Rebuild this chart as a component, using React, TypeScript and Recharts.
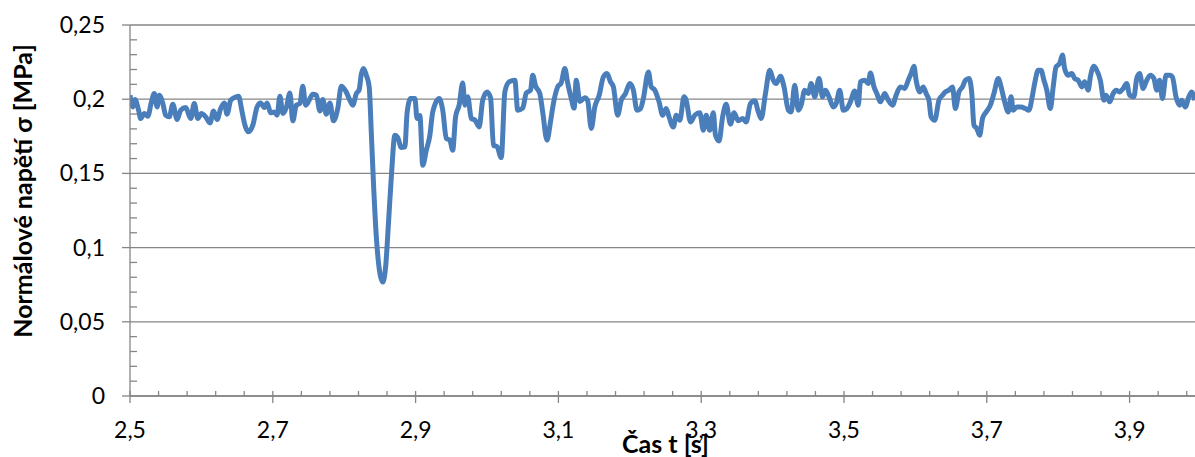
import { CartesianGrid, Label, Line, LineChart, XAxis, YAxis } from "recharts";

// normal stress σ [MPa] sampled over time t [s], as [t, σ] pairs
const calmStart: [number, number][] = [
  [2.5, 0.2027], [2.504, 0.1948], [2.507, 0.1998], [2.512, 0.1926], [2.515, 0.187], [2.52, 0.1904],
  [2.525, 0.1885], [2.53, 0.1982], [2.534, 0.2038], [2.538, 0.1948], [2.541, 0.2027], [2.546, 0.1971],
  [2.55, 0.1892], [2.555, 0.1881], [2.56, 0.1966], [2.566, 0.1863], [2.571, 0.1926], [2.578, 0.1944],
  [2.585, 0.187], [2.59, 0.1971], [2.595, 0.187], [2.6, 0.1904], [2.606, 0.1881], [2.612, 0.184],
  [2.617, 0.1921], [2.622, 0.1863], [2.627, 0.1937], [2.632, 0.1975], [2.636, 0.1899], [2.641, 0.1993],
  [2.646, 0.2011], [2.652, 0.202], [2.657, 0.1914], [2.661, 0.1825], [2.666, 0.178], [2.672, 0.1825],
  [2.678, 0.1948], [2.683, 0.1975], [2.688, 0.1944], [2.692, 0.1975], [2.697, 0.1908], [2.702, 0.1914],
  [2.706, 0.1892], [2.71, 0.202], [2.714, 0.1904], [2.719, 0.1944], [2.724, 0.2042], [2.728, 0.1854],
  [2.733, 0.196], [2.738, 0.1971], [2.742, 0.2088], [2.746, 0.196], [2.751, 0.1993], [2.756, 0.2034],
  [2.761, 0.2027], [2.766, 0.1921], [2.77, 0.1998], [2.775, 0.1899], [2.78, 0.1975], [2.785, 0.1854],
  [2.791, 0.1937], [2.796, 0.2088], [2.802, 0.2056], [2.808, 0.1993], [2.812, 0.196], [2.817, 0.2038],
  [2.821, 0.2065], [2.824, 0.2169], [2.827, 0.2207], [2.831, 0.2162], [2.835, 0.2083],
];

const stressDrop: [number, number][] = [
  [2.838, 0.1771], [2.841, 0.1434], [2.845, 0.1072], [2.85, 0.0827], [2.854, 0.0768], [2.858, 0.0869],
  [2.862, 0.1164], [2.866, 0.1476], [2.871, 0.1757], [2.875, 0.1742], [2.88, 0.1674], [2.885, 0.1678],
  [2.888, 0.1904], [2.893, 0.2005], [2.899, 0.2005], [2.902, 0.187], [2.906, 0.189], [2.91, 0.1555],
  [2.915, 0.1656], [2.92, 0.1757], [2.924, 0.1914],
];

const recovery: [number, number][] = [
  [2.933, 0.2005], [2.938, 0.1926], [2.943, 0.1735], [2.948, 0.1724], [2.952, 0.1656], [2.956, 0.1881],
  [2.961, 0.196], [2.966, 0.211], [2.969, 0.196], [2.973, 0.2016], [2.978, 0.187], [2.983, 0.186],
  [2.989, 0.1813], [2.994, 0.1993], [3.0, 0.2049], [3.005, 0.201], [3.009, 0.169], [3.014, 0.168],
  [3.02, 0.1607], [3.025, 0.2049], [3.031, 0.2117], [3.039, 0.2128], [3.043, 0.1926], [3.05, 0.194],
  [3.055, 0.2042], [3.061, 0.206], [3.064, 0.2162], [3.068, 0.209], [3.074, 0.2038], [3.078, 0.1915],
  [3.084, 0.1724], [3.089, 0.185], [3.093, 0.1971], [3.099, 0.2083], [3.104, 0.2111], [3.109, 0.2207],
  [3.113, 0.211], [3.118, 0.2005], [3.122, 0.194], [3.125, 0.2128], [3.13, 0.1985], [3.137, 0.201],
  [3.141, 0.199], [3.146, 0.1803], [3.151, 0.1948], [3.157, 0.2025],
];

const middle: [number, number][] = [
  [3.163, 0.215], [3.168, 0.2173], [3.173, 0.2117], [3.177, 0.2083], [3.183, 0.1892], [3.188, 0.1993],
  [3.194, 0.2038], [3.2, 0.2106], [3.205, 0.2061], [3.21, 0.1926], [3.215, 0.1937], [3.219, 0.2005],
  [3.226, 0.2184], [3.23, 0.2083], [3.235, 0.2061], [3.241, 0.1982], [3.246, 0.1892], [3.251, 0.1937],
  [3.255, 0.188], [3.261, 0.1813], [3.265, 0.1892], [3.27, 0.1858], [3.276, 0.2016], [3.279, 0.1993],
  [3.285, 0.1847], [3.291, 0.1892], [3.298, 0.1908], [3.303, 0.1791], [3.307, 0.1892], [3.312, 0.1791],
  [3.317, 0.1908], [3.32, 0.1757], [3.325, 0.1719], [3.33, 0.1881], [3.335, 0.1966], [3.341, 0.1832],
  [3.346, 0.1908], [3.352, 0.1854], [3.358, 0.187], [3.363, 0.1847], [3.369, 0.1971], [3.375, 0.1989],
  [3.38, 0.1914], [3.384, 0.187], [3.39, 0.2038],
];

const upperBand: [number, number][] = [
  [3.396, 0.2195], [3.401, 0.2128], [3.405, 0.2106], [3.411, 0.2155], [3.416, 0.2083], [3.422, 0.1926],
  [3.426, 0.1914], [3.431, 0.2094], [3.436, 0.1926], [3.44, 0.196], [3.445, 0.2061], [3.45, 0.2038],
  [3.454, 0.2106], [3.459, 0.2016], [3.465, 0.214], [3.47, 0.2016], [3.474, 0.2061], [3.479, 0.2016],
  [3.485, 0.1948], [3.489, 0.1971], [3.494, 0.2061], [3.499, 0.1926], [3.504, 0.1937], [3.509, 0.1982],
  [3.515, 0.2056], [3.52, 0.196], [3.523, 0.2117], [3.529, 0.2128], [3.534, 0.2106], [3.537, 0.2177],
  [3.542, 0.2083], [3.546, 0.2038], [3.551, 0.1982], [3.557, 0.2038], [3.562, 0.1993], [3.568, 0.196],
  [3.573, 0.2027], [3.579, 0.2083], [3.585, 0.2072], [3.59, 0.2128], [3.594, 0.2173], [3.598, 0.2222],
  [3.601, 0.2128], [3.606, 0.2049], [3.611, 0.2083], [3.615, 0.2038], [3.619, 0.1993], [3.622, 0.1881],
  [3.627, 0.1858], [3.633, 0.1993],
];

const tail: [number, number][] = [
  [3.638, 0.2027], [3.642, 0.2049], [3.647, 0.2061], [3.652, 0.2083], [3.656, 0.1937], [3.661, 0.2049],
  [3.666, 0.2083], [3.67, 0.2128], [3.675, 0.214], [3.679, 0.2038], [3.682, 0.1825], [3.686, 0.1803],
  [3.69, 0.1757], [3.694, 0.187], [3.699, 0.1914], [3.705, 0.196], [3.71, 0.2038], [3.716, 0.214],
  [3.72, 0.2083], [3.725, 0.1982], [3.73, 0.1914], [3.734, 0.2016], [3.737, 0.1926], [3.742, 0.1948],
  [3.748, 0.1948], [3.754, 0.1937], [3.759, 0.1926], [3.764, 0.2027], [3.767, 0.2106], [3.772, 0.2195],
  [3.776, 0.2195], [3.78, 0.2128], [3.784, 0.2061], [3.789, 0.1937], [3.793, 0.2083], [3.797, 0.2218],
  [3.802, 0.2241], [3.806, 0.2297], [3.809, 0.2207], [3.814, 0.2162], [3.819, 0.2173], [3.823, 0.214],
  [3.828, 0.2128], [3.833, 0.2083], [3.837, 0.2117], [3.842, 0.2061], [3.845, 0.215], [3.85, 0.2222],
  [3.854, 0.2195], [3.859, 0.2128], [3.864, 0.1993], [3.867, 0.2027], [3.872, 0.1982], [3.877, 0.2038],
  [3.881, 0.2061], [3.886, 0.2049], [3.891, 0.2072], [3.896, 0.2106], [3.9, 0.2027], [3.906, 0.2016],
  [3.91, 0.214], [3.914, 0.2173], [3.919, 0.2072], [3.923, 0.2117], [3.929, 0.2162], [3.934, 0.214],
  [3.938, 0.2061], [3.942, 0.2128], [3.946, 0.2005], [3.951, 0.2162], [3.957, 0.2162], [3.96, 0.215],
  [3.965, 0.2016], [3.97, 0.196], [3.973, 0.1993], [3.978, 0.1948], [3.983, 0.2016], [3.987, 0.2049],
  [3.991, 0.1993],
];

// axis scales: majors are labelled, minors only get a short tick
const xMajor = [2.5, 2.7, 2.9, 3.1, 3.3, 3.5, 3.7, 3.9];
const xMinorStep = 0.04;
const yMajor = [0, 0.05, 0.1, 0.15, 0.2, 0.25];
const yMinorStep = 0.01;

const xTitle = "Čas t [s]";
const yTitle = "Normálové napětí σ [MPa]";

const FONT = "Lato, 'Open Sans', sans-serif";
const AXIS = "#868686";
const LINE = "#4A7EBB";

const data = [...calmStart, ...stressDrop, ...recovery, ...middle, ...upperBand, ...tail].map(
  ([t, sigma]) => ({ t, sigma })
);

const steps = (from: number, to: number, step: number) => {
  const out: number[] = [];
  for (let v = from; v <= to + 1e-9; v += step) out.push(Number(v.toFixed(3)));
  return out;
};
const xTicks = steps(2.5, 4.0, xMinorStep);
const yTicks = steps(0, 0.25, yMinorStep);

const isMajor = (list: number[], v: number) => list.some((m) => Math.abs(m - v) < 1e-6);
const fmt = (v: number) => String(Number(v.toFixed(2))).replace(".", ",");

const XTick = (props: any) => {
  const { x, y, payload } = props;
  const major = isMajor(xMajor, payload.value);
  return (
    <g>
      <line x1={x} x2={x} y1={y - 5} y2={major ? y + 7 : y} stroke={AXIS} strokeWidth={1.3} />
      {major && (
        <text x={x} y={y + 42} textAnchor="middle" fontFamily={FONT} fontSize={23} fill="#000">
          {fmt(payload.value)}
        </text>
      )}
    </g>
  );
};

const YTick = (props: any) => {
  const { x, y, payload } = props;
  const major = isMajor(yMajor, payload.value);
  return (
    <g>
      <line x1={major ? x - 8 : x} x2={major ? x : x + 7} y1={y} y2={y} stroke={AXIS} strokeWidth={1.3} />
      {major && (
        <text x={x - 25} y={y + 8} textAnchor="end" fontFamily={FONT} fontSize={23} fill="#000">
          {fmt(payload.value)}
        </text>
      )}
    </g>
  );
};

const YTitle = () => (
  <text
    transform="translate(32, 191) rotate(-90)"
    textAnchor="middle"
    fontFamily={FONT}
    fontWeight={700}
    fontSize={25}
    fill="#000"
  >
    {yTitle}
  </text>
);

export default function App() {
  return (
    <div style={{ position: "absolute", left: 0, top: 0, width: 1195, height: 457, overflow: "hidden", background: "#fff" }}>
      <LineChart width={1210} height={457} data={data} margin={{ top: 25, right: 9, bottom: 0, left: 0 }}>
        <CartesianGrid vertical={false} horizontalValues={yMajor} stroke={AXIS} strokeWidth={1.3} />
        <XAxis
          dataKey="t"
          type="number"
          domain={[2.5, 4.0]}
          ticks={xTicks}
          interval={0}
          height={61}
          tickSize={0}
          tickMargin={0}
          tickLine={false}
          tick={<XTick />}
          axisLine={{ stroke: AXIS, strokeWidth: 1.3 }}
          allowDataOverflow
        >
          <Label
            value={xTitle}
            position="insideBottom"
            offset={4}
            style={{ fontFamily: FONT, fontWeight: 700, fontSize: 25, fill: "#000" }}
          />
        </XAxis>
        <YAxis
          type="number"
          domain={[0, 0.25]}
          ticks={yTicks}
          interval={0}
          width={130}
          tickSize={0}
          tickMargin={0}
          tickLine={false}
          tick={<YTick />}
          axisLine={{ stroke: AXIS, strokeWidth: 1.3 }}
          label={<YTitle />}
        />
        <Line
          type="monotone"
          dataKey="sigma"
          stroke={LINE}
          strokeWidth={5}
          strokeLinejoin="round"
          dot={false}
          isAnimationActive={false}
        />
      </LineChart>
    </div>
  );
}
